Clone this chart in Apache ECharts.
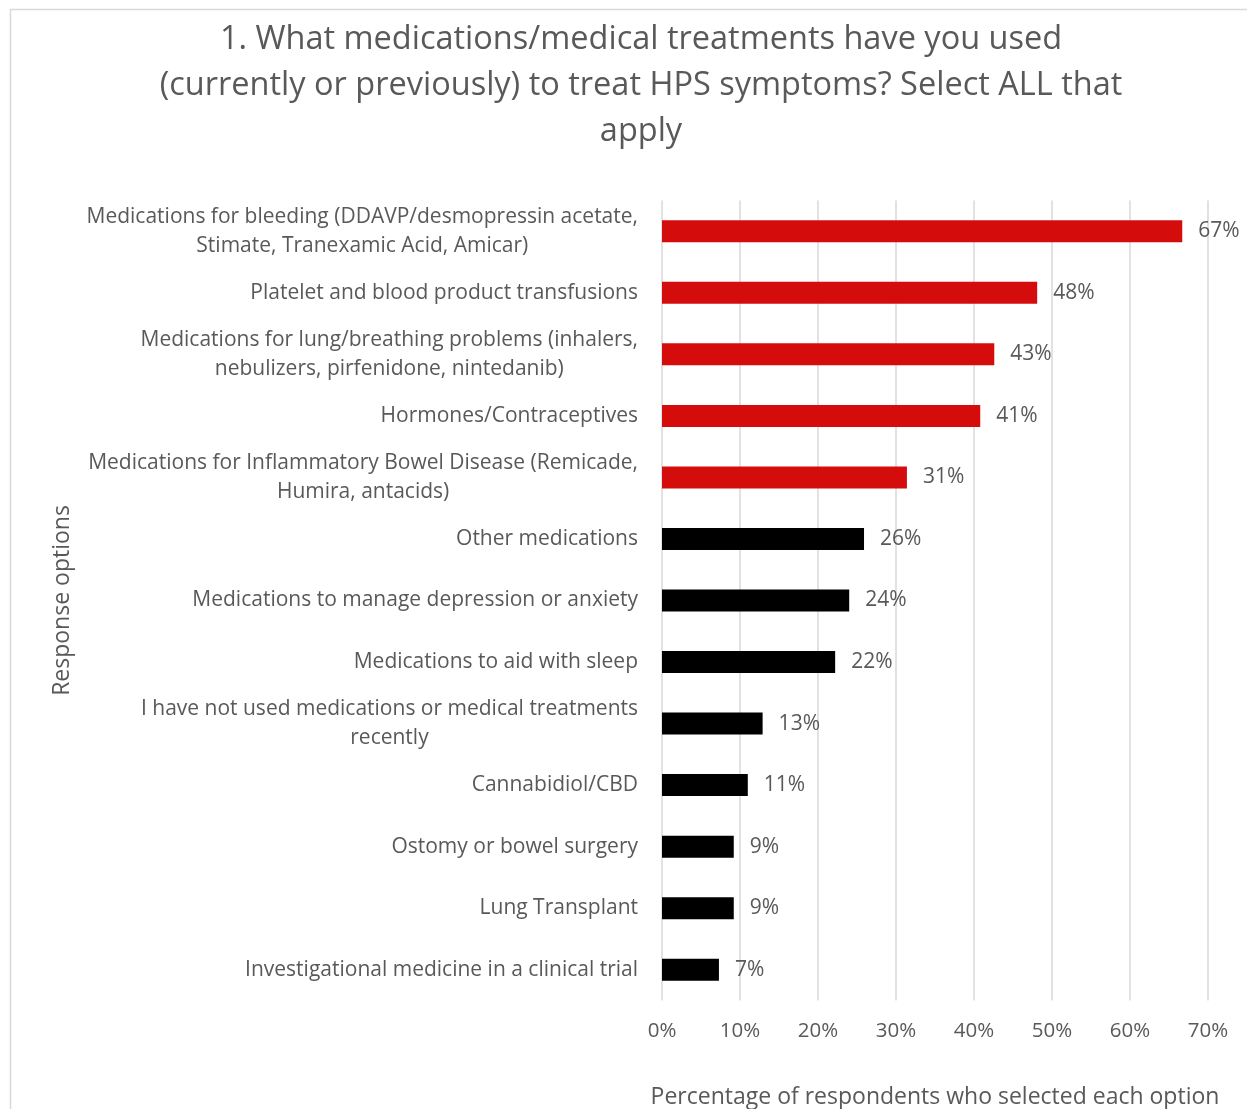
<!DOCTYPE html>
<html>
<head>
<meta charset="utf-8">
<script src="https://cdn.jsdelivr.net/npm/echarts@6/dist/echarts.min.js"></script>
<style>html,body{margin:0;padding:0;background:#fff}#c{width:1247px;height:1109px}</style>
</head>
<body>
<div id="c"></div>
<script>
const titleText = "1. What medications/medical treatments have you used\n(currently or previously) to treat HPS symptoms? Select ALL that\napply";
const categories = [
  "Medications for bleeding (DDAVP/desmopressin acetate,\nStimate, Tranexamic Acid, Amicar)",
  "Platelet and blood product transfusions",
  "Medications for lung/breathing problems (inhalers,\nnebulizers, pirfenidone, nintedanib)",
  "Hormones/Contraceptives",
  "Medications for Inflammatory Bowel Disease (Remicade,\nHumira, antacids)",
  "Other medications",
  "Medications to manage depression or anxiety",
  "Medications to aid with sleep",
  "I have not used medications or medical treatments\nrecently",
  "Cannabidiol/CBD",
  "Ostomy or bowel surgery",
  "Lung Transplant",
  "Investigational medicine in a clinical trial"
];
const values = [66.7, 48.1, 42.6, 40.8, 31.4, 25.9, 24.0, 22.2, 12.9, 11.0, 9.2, 9.2, 7.3];
const highlighted = [true, true, true, true, true, false, false, false, false, false, false, false, false];
const xTicks = [0, 10, 20, 30, 40, 50, 60, 70];
const xAxisName = "Percentage of respondents who selected each option";
const yAxisName = "Response options";

const RED = "#d40c0c", BLACK = "#000000", TXT = "#595959";
const FONT = "'Open Sans', 'Noto Sans', sans-serif";

const chart = echarts.init(document.getElementById('c'), null, {renderer: 'canvas'});
chart.setOption({
  animation: false,
  backgroundColor: '#fff',
  textStyle: {fontFamily: FONT},
  graphic: [{
    type: 'rect', shape: {x: 10.5, y: 9.5, width: 1260, height: 1120},
    style: {fill: 'none', stroke: '#d9d9d9', lineWidth: 1.5}, silent: true, z: -10
  }],
  title: {
    text: titleText, left: 636, top: 12, textAlign: 'center',
    textStyle: {fontFamily: FONT, fontSize: 32.5, fontWeight: 'normal', color: TXT, lineHeight: 46}
  },
  grid: {left: 662, right: 39, top: 200.5, bottom: 108.5, containLabel: false, outerBoundsMode: 'none'},
  xAxis: {
    type: 'value', min: 0, max: 70, interval: 10,
    axisLine: {show: false}, axisTick: {show: false},
    splitLine: {show: true, lineStyle: {color: '#d9d9d9', width: 1.5}},
    axisLabel: {formatter: v => v + '%', color: TXT, fontSize: 20.5, margin: 20.5, fontFamily: FONT,
      customValues: xTicks},
    name: xAxisName, nameLocation: 'middle', nameGap: 85.5,
    nameTextStyle: {color: TXT, fontSize: 23, fontFamily: FONT}
  },
  yAxis: {
    type: 'category', data: categories, inverse: true,
    axisLine: {show: false}, axisTick: {show: false},
    axisLabel: {
      color: TXT, fontSize: 21, lineHeight: 29, margin: 24, fontFamily: FONT, align: 'right',
      formatter: v => v.split('\n').map(l => '{c|' + l + '}').join('\n'),
      rich: {c: {align: 'center', color: TXT, fontSize: 21, lineHeight: 29, fontFamily: FONT}}
    },
    name: yAxisName, nameLocation: 'middle', nameGap: 588, nameRotate: 90,
    nameTextStyle: {color: TXT, fontSize: 23, fontFamily: FONT}
  },
  series: [{
    type: 'bar', barWidth: 22,
    data: values.map((v, i) => ({value: v, itemStyle: {color: highlighted[i] ? RED : BLACK}})),
    label: {show: true, position: 'right', distance: 16, color: TXT, fontSize: 21, fontFamily: FONT,
      formatter: p => Math.round(p.value) + '%'}
  }]
});
</script>
</body>
</html>
